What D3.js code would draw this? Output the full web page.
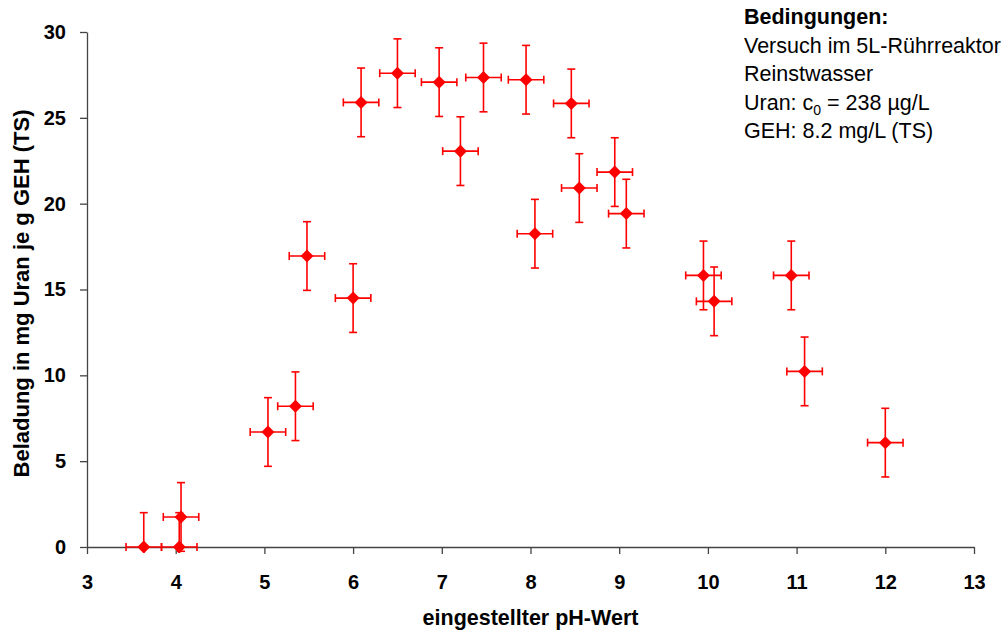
<!DOCTYPE html>
<html>
<head>
<meta charset="utf-8">
<script src="https://cdn.jsdelivr.net/npm/d3@7"></script>
<style>
  body { margin: 0; background: #fff; }
  text { font-family: "Liberation Sans", Arial, sans-serif; }
</style>
</head>
<body>
<div id="chart"></div>
<script>
    // pH values and loading (mg U / g GEH)
    const phValues = [3.64, 4.04, 4.06, 5.04, 5.35, 5.48, 6.0, 6.09, 6.5, 6.97, 7.21, 7.47, 7.95, 8.05, 8.46, 8.55, 8.95, 9.08, 9.95, 10.07, 10.94, 11.09, 12.0];
    const loading = [0, 0, 1.75, 6.7, 8.2, 16.95, 14.5, 25.9, 27.6, 27.08, 23.06, 27.35, 27.22, 18.25, 25.84, 20.91, 21.84, 19.42, 15.82, 14.31, 15.82, 10.23, 6.08];
    const phError = 0.2;
    const loadError = 2;
    const xTicks = [3, 4, 5, 6, 7, 8, 9, 10, 11, 12, 13];
    const yTicks = [0, 5, 10, 15, 20, 25, 30];
    const notes = ["Versuch im 5L-Rührreaktor", "Reinstwasser", "Uran: c", "GEH: 8.2 mg/L (TS)"];

    const width = 1008;
    const height = 631;
    const margin = { left: 87, right: 34, top: 32, bottom: 84 };

    const svg = d3.select("#chart").append("svg")
        .attr("width", width)
        .attr("height", height);

    const x = d3.scaleLinear().domain([3, 13]).range([margin.left, width - margin.right]);
    const y = d3.scaleLinear().domain([0, 30]).range([height - margin.bottom, margin.top]);

    const points = phValues.map((p, i) => ({ x: p, y: loading[i] }));

    // axes
    const xAxis = svg.append("g")
        .attr("transform", `translate(0,${y(0)})`)
        .call(d3.axisBottom(x).tickValues(xTicks).tickSize(7).tickSizeOuter(0).tickPadding(21));
    const yAxis = svg.append("g")
        .attr("transform", `translate(${x(3)},0)`)
        .call(d3.axisLeft(y).tickValues(yTicks).tickSize(7).tickSizeOuter(0).tickPadding(14));

    [xAxis, yAxis].forEach(ax => {
        ax.select(".domain").attr("stroke", "#444").attr("stroke-width", 1.3);
        ax.selectAll(".tick line").attr("stroke", "#444").attr("stroke-width", 1.3);
        ax.selectAll("text")
            .attr("fill", "#000")
            .style("font-size", "20px")
            .style("font-weight", "bold")
            .style("font-family", "'Liberation Sans', Arial, sans-serif");
    });

    svg.append("clipPath").attr("id", "plot-clip")
        .append("rect")
        .attr("x", margin.left)
        .attr("y", margin.top - 20)
        .attr("width", width - margin.left - margin.right)
        .attr("height", y(0) - margin.top + 26);

    const marks = svg.append("g").attr("clip-path", "url(#plot-clip)");
    const red = "#ff0000";
    const cap = 4;

    points.forEach(d => {
        const cx = x(d.x), cy = y(d.y);
        const g = marks.append("g")
            .attr("stroke", red)
            .attr("stroke-width", 1.6);
        // vertical error bar
        g.append("line").attr("x1", cx).attr("x2", cx)
            .attr("y1", y(d.y - loadError)).attr("y2", y(d.y + loadError));
        g.append("line").attr("x1", cx - cap).attr("x2", cx + cap)
            .attr("y1", y(d.y + loadError)).attr("y2", y(d.y + loadError));
        g.append("line").attr("x1", cx - cap).attr("x2", cx + cap)
            .attr("y1", y(d.y - loadError)).attr("y2", y(d.y - loadError));
        // horizontal error bar
        g.append("line").attr("y1", cy).attr("y2", cy)
            .attr("x1", x(d.x - phError)).attr("x2", x(d.x + phError));
        g.append("line").attr("y1", cy - cap).attr("y2", cy + cap)
            .attr("x1", x(d.x - phError)).attr("x2", x(d.x - phError));
        g.append("line").attr("y1", cy - cap).attr("y2", cy + cap)
            .attr("x1", x(d.x + phError)).attr("x2", x(d.x + phError));
    });

    marks.selectAll(".marker")
        .data(points)
        .enter().append("path")
        .attr("class", "marker")
        .attr("d", "M0,-6.5L6.5,0L0,6.5L-6.5,0Z")
        .attr("transform", d => `translate(${x(d.x)},${y(d.y)})`)
        .attr("fill", red);

    // axis titles
    svg.append("text")
        .attr("x", (x(3) + x(13)) / 2)
        .attr("y", 625)
        .attr("text-anchor", "middle")
        .style("font-size", "21.5px")
        .style("font-weight", "bold")
        .text("eingestellter pH-Wert");

    svg.append("text")
        .attr("transform", `translate(29,${(y(0) + y(30)) / 2 + 4}) rotate(-90)`)
        .attr("text-anchor", "middle")
        .style("font-size", "22px")
        .style("font-weight", "bold")
        .text("Beladung in mg Uran je g GEH (TS)");

    // conditions box
    const note = svg.append("text")
        .attr("x", 744)
        .attr("y", 24)
        .style("font-size", "21.5px")
        .attr("fill", "#000");
    note.append("tspan").attr("x", 744).style("font-weight", "bold").text("Bedingungen:");
    notes.forEach(line => {
        note.append("tspan").attr("x", 744).attr("dy", 28.5).text(line);
        if (line === "Uran: c") {
            note.append("tspan").attr("dy", 5).style("font-size", "14px").text("0");
            note.append("tspan").attr("dy", -5).text(" = 238 µg/L");
        }
    });
</script>
</body>
</html>
